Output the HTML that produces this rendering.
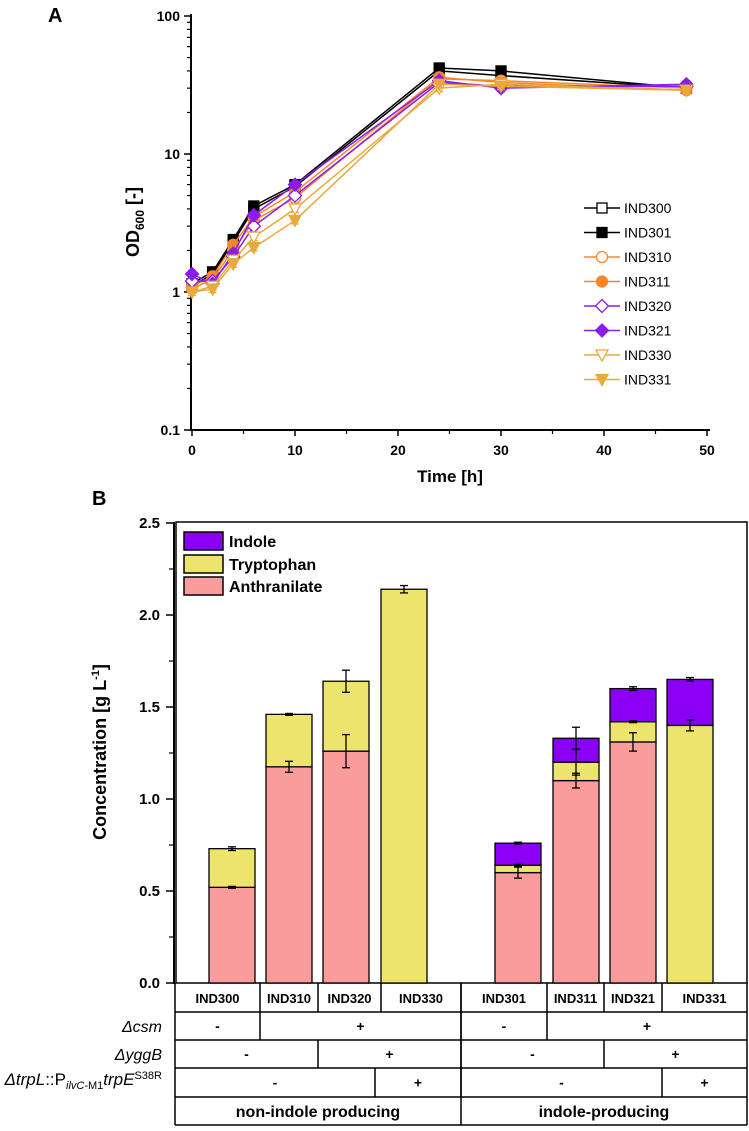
<!DOCTYPE html>
<html><head><meta charset="utf-8"><style>
body{margin:0;background:#fff}
svg text{font-family:"Liberation Sans",Arial,sans-serif}
</style></head><body>
<svg width="749" height="1126" viewBox="0 0 749 1126" xmlns="http://www.w3.org/2000/svg">
<g id="A"></g>
<g id="B"></g>
</svg>
<script>
// Panel A data
const times=[0,2,4,6,10,24,30,48];
const strains=["IND300","IND301","IND310","IND311","IND320","IND321","IND330","IND331"];
const od300=[1.1,1.35,2.3,4.0,5.8,40,37,30];
const od301=[1.15,1.4,2.4,4.2,6.0,42,40,30];
const od310=[1.05,1.25,2.0,3.3,4.8,35,34,30];
const od311=[1.1,1.3,2.2,3.5,5.3,36,33,29];
const od320=[1.2,1.2,1.8,3.0,5.0,33,31,31];
const od321=[1.35,1.15,1.9,3.6,6.0,34,30,32];
const od330=[1.0,1.1,1.7,2.5,4.0,30,32,29];
const od331=[1.0,1.05,1.6,2.1,3.3,32,31,29];
const xTicks=[0,10,20,30,40,50];
const yTicks=[0.1,1,10,100];
// Panel B data
const barNames=["IND300","IND310","IND320","IND330","IND301","IND311","IND321","IND331"];
const anth=[0.52,1.175,1.26,0,0.60,1.10,1.31,0];
const tryp=[0.21,0.285,0.38,2.14,0.04,0.10,0.11,1.40];
const indole=[0,0,0,0,0.12,0.13,0.18,0.25];
const anthErr=[0,0.03,0.09,0,0.03,0.04,0.05,0];
const trypErr=[0.01,0,0.06,0.02,0,0.07,0,0.03];
const indErr=[0,0,0,0,0,0.06,0.01,0.01];
const bTicks=[0,0.5,1.0,1.5,2.0,2.5];

const NS="http://www.w3.org/2000/svg";
function mk(p,t,a,txt){const e=document.createElementNS(NS,t);for(const k in a)e.setAttribute(k,a[k]);if(txt!==undefined)e.textContent=txt;p.appendChild(e);return e;}
const A=document.getElementById('A'),B=document.getElementById('B');

// ---- Panel A ----
const ax=t=>192+t*10.3;
const ay=v=>292-Math.log10(v)*138;
let e;
e=mk(A,'text',{x:48,y:22,'font-size':20,'font-weight':'bold'},'A');


mk(A,'line',{x1:191,y1:14,x2:191,y2:431,stroke:'#000','stroke-width':2});
mk(A,'line',{x1:190,y1:430,x2:710,y2:430,stroke:'#000','stroke-width':2});
yTicks.forEach(v=>{
 mk(A,'line',{x1:184,y1:ay(v),x2:191,y2:ay(v),stroke:'#000','stroke-width':1.5});
 e=mk(A,'text',{x:180,y:ay(v)+5,'text-anchor':'end','font-size':14,'font-weight':'bold'},String(v));
 
 
});
for(let d=0.1;d<100;d*=10){for(let m=2;m<10;m++){const y=ay(d*m);mk(A,'line',{x1:187,y1:y,x2:191,y2:y,stroke:'#000','stroke-width':1.2});}}
xTicks.forEach(t=>{
 mk(A,'line',{x1:ax(t),y1:430,x2:ax(t),y2:436,stroke:'#000','stroke-width':1.5});
 mk(A,'line',{x1:ax(t+5),y1:430,x2:ax(t+5),y2:434,stroke:'#000','stroke-width':1.2});
 e=mk(A,'text',{x:ax(t),y:455,'text-anchor':'middle','font-size':14,'font-weight':'bold'},String(t));
 
 
});
e=mk(A,'text',{x:450,y:482,'text-anchor':'middle','font-size':17,'font-weight':'bold'},'Time [h]');


e=mk(A,'text',{transform:'translate(139,222) rotate(-90)','text-anchor':'middle','font-size':18,'font-weight':'bold'});


e.innerHTML='OD<tspan font-size="12" dy="5">600</tspan><tspan dy="-5"> [-]</tspan>';
const series=[od300,od301,od310,od311,od320,od321,od330,od331];
const cols=['#000','#000','#f7862a','#f7862a','#8a1cf0','#8a1cf0','#e9a93b','#e9a93b'];
const shapes=['sq','sq','ci','ci','di','di','tr','tr'];
function marker(g,s,x,y,c,fill){
 const f=fill?c:'#fff';
 if(s==='sq')return mk(g,'rect',{x:x-5,y:y-5,width:10,height:10,fill:f,stroke:c,'stroke-width':1.3});
 if(s==='ci')return mk(g,'circle',{cx:x,cy:y,r:5.5,fill:f,stroke:c,'stroke-width':1.3});
 if(s==='di')return mk(g,'polygon',{points:`${x},${y-6.5} ${x+6.5},${y} ${x},${y+6.5} ${x-6.5},${y}`,fill:f,stroke:c,'stroke-width':1.3});
 return mk(g,'polygon',{points:`${x-6},${y-5} ${x+6},${y-5} ${x},${y+6}`,fill:f,stroke:c,'stroke-width':1.3});
}
series.forEach((s,i)=>{
 const g=mk(A,'g',{});
 
 
 mk(g,'polyline',{points:s.map((v,j)=>ax(times[j])+','+ay(v)).join(' '),fill:'none',stroke:cols[i],'stroke-width':1.5});
 s.forEach((v,j)=>{const x=ax(times[j]),y=ay(v);
  mk(g,'line',{x1:x,y1:ay(v*1.06),x2:x,y2:ay(v/1.06),stroke:cols[i],'stroke-width':1.2});
  mk(g,'line',{x1:x-4,y1:ay(v*1.06),x2:x+4,y2:ay(v*1.06),stroke:cols[i],'stroke-width':1.2});
  mk(g,'line',{x1:x-4,y1:ay(v/1.06),x2:x+4,y2:ay(v/1.06),stroke:cols[i],'stroke-width':1.2});
  marker(g,shapes[i],x,y,cols[i],i%2===1);});
});
strains.forEach((n,i)=>{
 const y=208+i*24.5;
 const g=mk(A,'g',{});
 
 
 mk(g,'line',{x1:584,y1:y,x2:620,y2:y,stroke:cols[i],'stroke-width':1.5});
 marker(g,shapes[i],602,y,cols[i],i%2===1);
 mk(g,'text',{x:624,y:y+5,'font-size':14},n);
});

// ---- Panel B ----
const by=v=>983-v*184;
const barX=[209,266,323,381,495,553,610,667];
const bw=46;
e=mk(B,'text',{x:92,y:505,'font-size':20,'font-weight':'bold'},'B');


mk(B,'rect',{x:176,y:522,width:571,height:461,fill:'none',stroke:'#000','stroke-width':1.5});
mk(B,'line',{x1:174,y1:522,x2:174,y2:984,stroke:'#000','stroke-width':2});
bTicks.forEach(v=>{
 mk(B,'line',{x1:166,y1:by(v),x2:174,y2:by(v),stroke:'#000','stroke-width':1.5});
 e=mk(B,'text',{x:160,y:by(v)+5,'text-anchor':'end','font-size':15,'font-weight':'bold'},v.toFixed(1));
 
 
 if(v<2.5)mk(B,'line',{x1:169,y1:by(v+0.25),x2:174,y2:by(v+0.25),stroke:'#000','stroke-width':1.2});
});
e=mk(B,'text',{transform:'translate(106,752) rotate(-90)','text-anchor':'middle','font-size':18,'font-weight':'bold'});


e.innerHTML='Concentration [g L<tspan font-size="11" dy="-7">-1</tspan><tspan dy="7">]</tspan>';
function seg(g,x,v0,v1,c){if(v1<=v0)return;mk(g,'rect',{x:x,y:by(v1),width:bw,height:by(v0)-by(v1),fill:c,stroke:'#000','stroke-width':1.3});}
function err(g,x,v,d){if(!d)d=0.005;const cx=x+bw/2;
 mk(g,'line',{x1:cx,y1:by(v+d),x2:cx,y2:by(v-d),stroke:'#000','stroke-width':1.3});
 mk(g,'line',{x1:cx-4,y1:by(v+d),x2:cx+4,y2:by(v+d),stroke:'#000','stroke-width':1.3});
 mk(g,'line',{x1:cx-4,y1:by(v-d),x2:cx+4,y2:by(v-d),stroke:'#000','stroke-width':1.3});}
barNames.forEach((n,i)=>{
 const g=mk(B,'g',{});
 
 
 const x=barX[i],a=anth[i],t=a+tryp[i],d=t+indole[i];
 seg(g,x,0,a,'#fa9c9b');seg(g,x,a,t,'#ede46e');seg(g,x,t,d,'#8a00f5');
 if(a>0)err(g,x,a,anthErr[i]);
 err(g,x,t,trypErr[i]);
 if(indole[i]>0)err(g,x,d,indErr[i]);
});
[['Indole','#8a00f5',532],['Tryptophan','#ede46e',555],['Anthranilate','#fa9c9b',577]].forEach(l=>{
 const g=mk(B,'g',{});
 
 
 mk(g,'rect',{x:184,y:l[2],width:39,height:18,fill:l[1],stroke:'#000','stroke-width':1.5});
 mk(g,'text',{x:229,y:l[2]+15,'font-size':16,'font-weight':'bold'},l[0]);
});
// table
const T=mk(B,'g',{});


const L=175,R=747,rows=[983,1012,1040,1068,1097,1125];
const ln=(x1,y1,x2,y2)=>mk(T,'line',{x1,y1,x2,y2,stroke:'#000','stroke-width':1.5});
rows.slice(1).forEach(y=>ln(L,y,R,y));ln(L,983,L,1125);ln(R,983,R,1125);ln(461,983,461,1125);
const colB=[175,260,318,381,461,547,604,662,747];
colB.slice(1,-1).forEach(x=>ln(x,983,x,1012));
const txt=(x,y,s,sz,w)=>mk(T,'text',{x,y,'text-anchor':'middle','font-size':sz||13,'font-weight':w||'bold'},s);
barNames.forEach((n,i)=>txt((colB[i]+colB[i+1])/2,1003,n,13));
function row(y0,y1,segs){segs.forEach(s=>{if(s[0]>L)ln(s[0],y0,s[0],y1);txt((s[0]+s[1])/2,(y0+y1)/2+5,s[2],14);});}
row(1012,1040,[[175,260,'-'],[260,461,'+'],[461,547,'-'],[547,747,'+']]);
row(1040,1068,[[175,318,'-'],[318,461,'+'],[461,604,'-'],[604,747,'+']]);
row(1068,1097,[[175,375,'-'],[375,461,'+'],[461,662,'-'],[662,747,'+']]);
txt(318,1117,'non-indole producing',16);txt(604,1117,'indole-producing',16);
const lab=(y,h,sz)=>{const t=mk(B,'text',{x:162,y:y,'text-anchor':'end','font-size':sz||16,'font-style':'italic'});t.innerHTML=h;return t;};
e=lab(1032,'Δcsm');
e=lab(1060,'ΔyggB');
e=lab(1085,'Δ<tspan>trpL</tspan><tspan font-style="normal">::P</tspan><tspan font-size="11" dy="4">ilvC-</tspan><tspan font-size="11" font-style="normal">M1</tspan><tspan dy="-4">trpE</tspan><tspan font-style="normal" font-size="11" dy="-6">S38R</tspan>',17);

</script>
</body></html>
